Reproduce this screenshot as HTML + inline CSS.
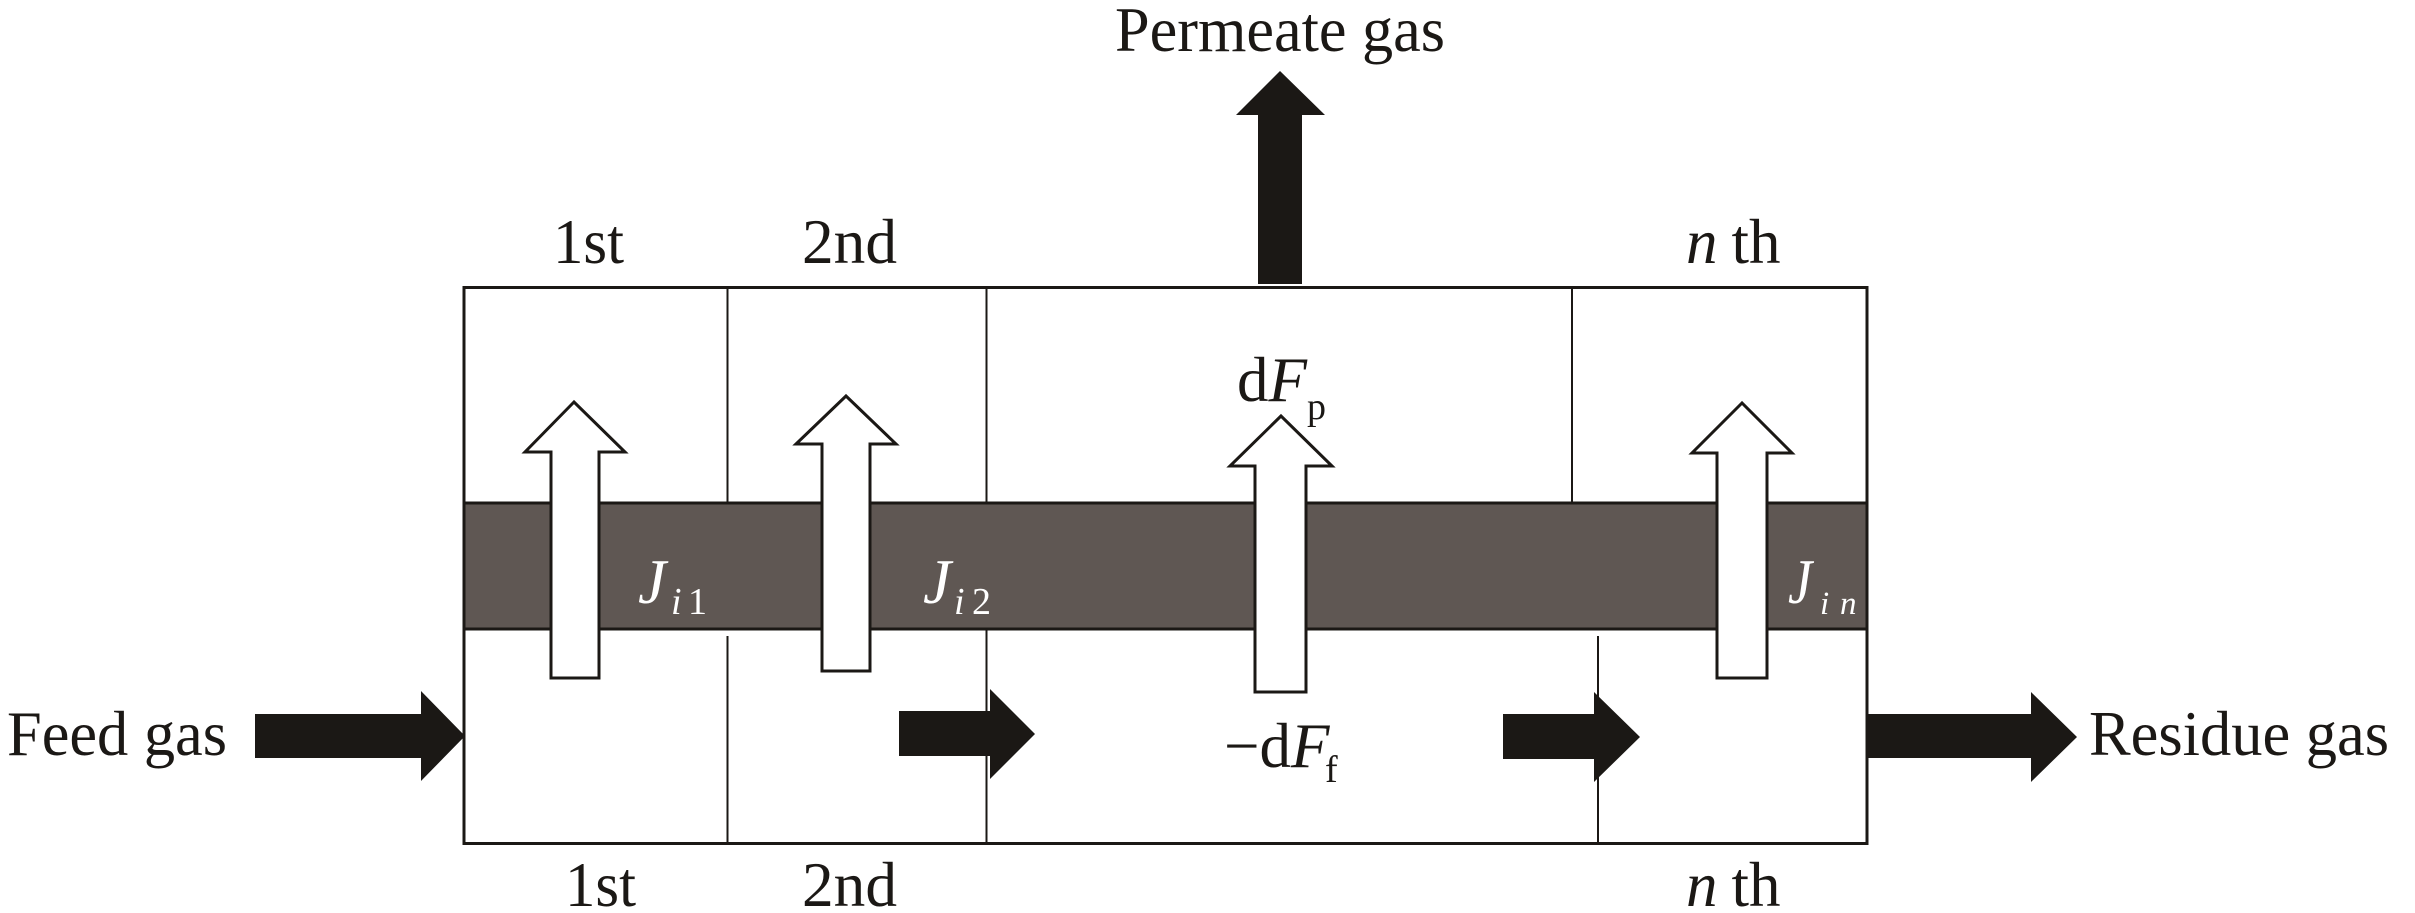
<!DOCTYPE html>
<html><head><meta charset="utf-8"><style>
html,body{margin:0;padding:0;background:#fff}
svg{display:block}
text{font-family:"Liberation Serif",serif;font-size:63px;fill:#1b1815}
.i{font-style:italic}
.w{fill:#fff}
.s{font-size:38px}
</style></head><body>
<svg width="2415" height="913" viewBox="0 0 2415 913" xmlns="http://www.w3.org/2000/svg">
<rect width="2415" height="913" fill="#fff"/>
<rect x="464" y="503" width="1403" height="126" fill="#5f5753"/>
<g fill="none" stroke="#1b1815">
<rect x="464" y="287.500" width="1403" height="556" stroke-width="3"/>
<path d="M464 503H1867M464 629H1867" stroke-width="3"/>
<path d="M727.500 287V503M727.500 636V844M986.500 287V503M986.500 629V844M1572 287V503M1598 636V844" stroke-width="2"/>
</g>
<g fill="#fff" stroke="#1b1815" stroke-width="3">
<polygon points="574,402 525,452 551,452 551,678 599,678 599,452 625,452"/>
<polygon points="846,396 796,444 822,444 822,671 870,671 870,444 896,444"/>
<polygon points="1281,416 1230,466 1255,466 1255,692 1306,692 1306,466 1332,466"/>
<polygon points="1742,403 1692,453 1717,453 1717,678 1767,678 1767,453 1792,453"/>
</g>
<g fill="#1b1815">
<polygon points="255,714 421,714 421,691 465,736 421,781 421,758 255,758"/>
<polygon points="899,711 990,711 990,689 1035,734 990,779 990,756 899,756"/>
<polygon points="1503,714 1594,714 1594,692 1640,737 1594,782 1594,759 1503,759"/>
<polygon points="1867,714 2031,714 2031,692 2077,737 2031,782 2031,758 1867,758"/>
<polygon points="1258,284 1302,284 1302,115 1325,115 1280,71 1236,115 1258,115"/>
</g>
<text x="1115" y="51" textLength="330" lengthAdjust="spacingAndGlyphs">Permeate gas</text>
<text x="7" y="755" textLength="220" lengthAdjust="spacingAndGlyphs">Feed gas</text>
<text x="2089" y="755" textLength="300" lengthAdjust="spacingAndGlyphs">Residue gas</text>
<text x="553" y="263" textLength="71" lengthAdjust="spacingAndGlyphs">1st</text>
<text x="802" y="263" textLength="95" lengthAdjust="spacingAndGlyphs">2nd</text>
<text x="565" y="906" textLength="71" lengthAdjust="spacingAndGlyphs">1st</text>
<text x="802" y="906" textLength="95" lengthAdjust="spacingAndGlyphs">2nd</text>
<text x="1686" y="263"><tspan class="i">n</tspan><tspan dx="14">th</tspan></text>
<text x="1686" y="906"><tspan class="i">n</tspan><tspan dx="14">th</tspan></text>
<text x="1237" y="401">d<tspan class="i">F</tspan></text>
<text x="1307" y="419" class="s">p</text>
<text x="1224" y="767">−d<tspan class="i">F</tspan></text>
<text x="1325" y="782" class="s">f</text>
<text x="638" y="603" class="i w">J</text>
<text x="671" y="614" class="i w s">i</text>
<text x="688" y="614" class="w s">1</text>
<text x="923" y="603" class="i w">J</text>
<text x="954" y="614" class="i w s">i</text>
<text x="972" y="614" class="w s">2</text>
<text x="1788" y="603" class="i w" textLength="24" lengthAdjust="spacingAndGlyphs">J</text>
<text x="1820" y="614" class="i w" style="font-size:33px">i</text>
<text x="1840" y="614" class="i w" style="font-size:33px">n</text>
</svg>
</body></html>
